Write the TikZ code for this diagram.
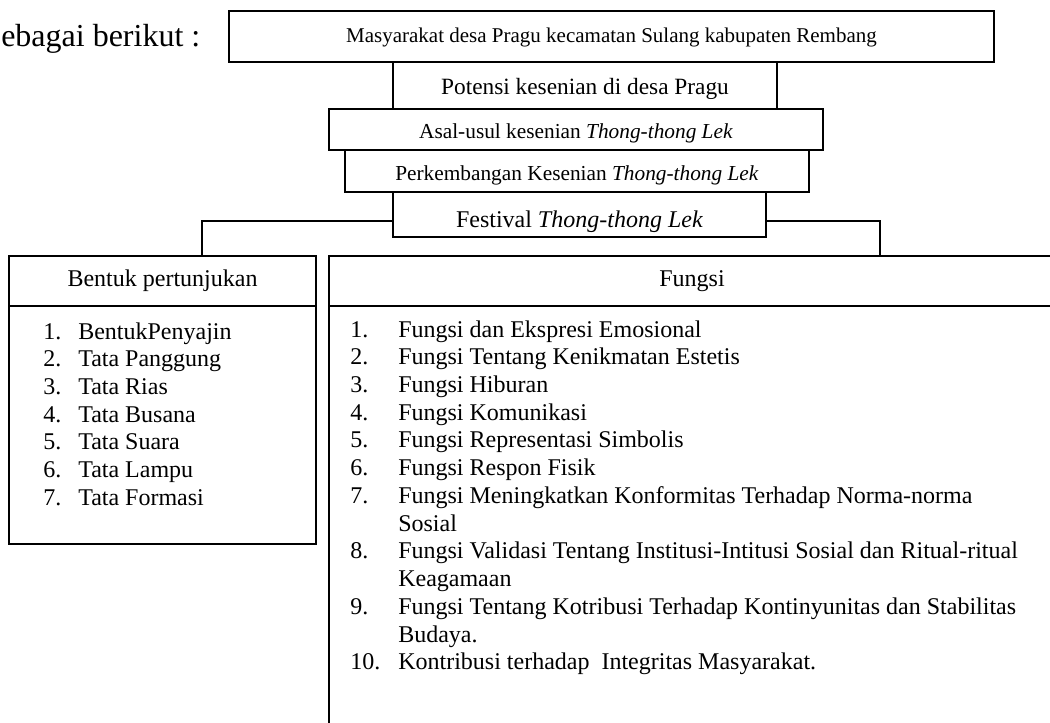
\documentclass[tikz,border=0pt]{standalone}
\usepackage{fontspec}
\setmainfont{Liberation Serif}
\usetikzlibrary{positioning}
\tikzstyle{stackbox} = [rectangle, draw=black, line width=1pt,
text depth=0pt, inner sep=0pt, align=center,
font=\fontsize{16}{19}\selectfont]
\tikzstyle{headbox} = [rectangle, draw=black, line width=1.2pt,
inner sep=0pt, minimum width=230.25pt, minimum height=37.5pt,
font=\fontsize{18}{21}\selectfont]
\tikzstyle{listbox} = [rectangle, draw=black, line width=1.2pt, inner sep=0pt]
\tikzstyle{listtext} = [inner sep=0pt, anchor=base west, font=\fontsize{18}{20.8}\selectfont]
\tikzstyle{link} = [draw=black, line width=1pt]

\begin{document}
\begin{tikzpicture}[x=0.75pt, y=-0.75pt]
    \useasboundingbox (0,0) rectangle (1050,722);
    \clip (0,0) rectangle (1050,722);
    \node (intro) [anchor=base west, inner sep=0pt, font=\fontsize{24}{28}\selectfont] at (1,46) {ebagai berikut :};

    \node (mas)  [stackbox, minimum width=573.75pt, minimum height=38.25pt, text height=8.25pt,
                  font=\fontsize{15.75}{19}\selectfont] at (611.5,36.5) {Masyarakat desa Pragu kecamatan Sulang kabupaten Rembang};
    \node (pot)  [stackbox, minimum width=288pt, minimum height=35.25pt, text height=12.8pt,
                  font=\fontsize{17.5}{21}\selectfont] at (585,85.5) {Potensi kesenian di desa Pragu};
    \node (asal) [stackbox, minimum width=370.5pt, minimum height=30.75pt, text height=14.2pt] at (576,129.5) {Asal-usul kesenian \textit{Thong-thong Lek}};
    \node (perk) [stackbox, minimum width=348pt, minimum height=31.5pt, text height=13.5pt] at (577,171) {Perkembangan Kesenian \textit{Thong-thong Lek}};
    \node (fest) [stackbox, minimum width=279.75pt, minimum height=33.75pt, text height=18.8pt,
                  font=\fontsize{18}{21}\selectfont] at (579.5,214.5) {Festival \textit{Thong-thong Lek}};

    \node (bentukhead) [headbox] at (162.5,281) {Bentuk pertunjukan};
    \node (bentukbody) [listbox, minimum width=230.25pt, minimum height=178.5pt] at (162.5,425) {};
    \node (fungsihead) [headbox, minimum width=544.5pt] at (692,281) {Fungsi};
    \node (fungsibody) [listbox, minimum width=544.5pt, minimum height=340.5pt] at (692,533) {};

    \node (bentuklist) [listtext] at (43,339) {\begin{tabular}[t]{@{}p{26.25pt}@{}l@{}}
        1. & BentukPenyajin\\
        2. & Tata Panggung\\
        3. & Tata Rias\\
        4. & Tata Busana\\
        5. & Tata Suara\\
        6. & Tata Lampu\\
        7. & Tata Formasi
    \end{tabular}};
    \node (fungsilist) [listtext] at (350,337) {\begin{tabular}[t]{@{}p{36pt}@{}l@{}}
        1.  & Fungsi dan Ekspresi Emosional\\
        2.  & Fungsi Tentang Kenikmatan Estetis\\
        3.  & Fungsi Hiburan\\
        4.  & Fungsi Komunikasi\\
        5.  & Fungsi Representasi Simbolis\\
        6.  & Fungsi Respon Fisik\\
        7.  & Fungsi Meningkatkan Konformitas Terhadap Norma-norma\\
            & Sosial\\
        8.  & Fungsi Validasi Tentang Institusi-Intitusi Sosial dan Ritual-ritual\\
            & Keagamaan\\
        9.  & Fungsi Tentang Kotribusi Terhadap Kontinyunitas dan Stabilitas\\
            & Budaya.\\
        10. & Kontribusi terhadap~ Integritas Masyarakat.
    \end{tabular}};

    \draw[link] ([yshift=-4.9pt]fest.west) -| ([xshift=29.6pt]bentukhead.north);
    \draw[link] ([yshift=-4.9pt]fest.east) -| ([xshift=141pt]fungsihead.north);
\end{tikzpicture}
\end{document}
